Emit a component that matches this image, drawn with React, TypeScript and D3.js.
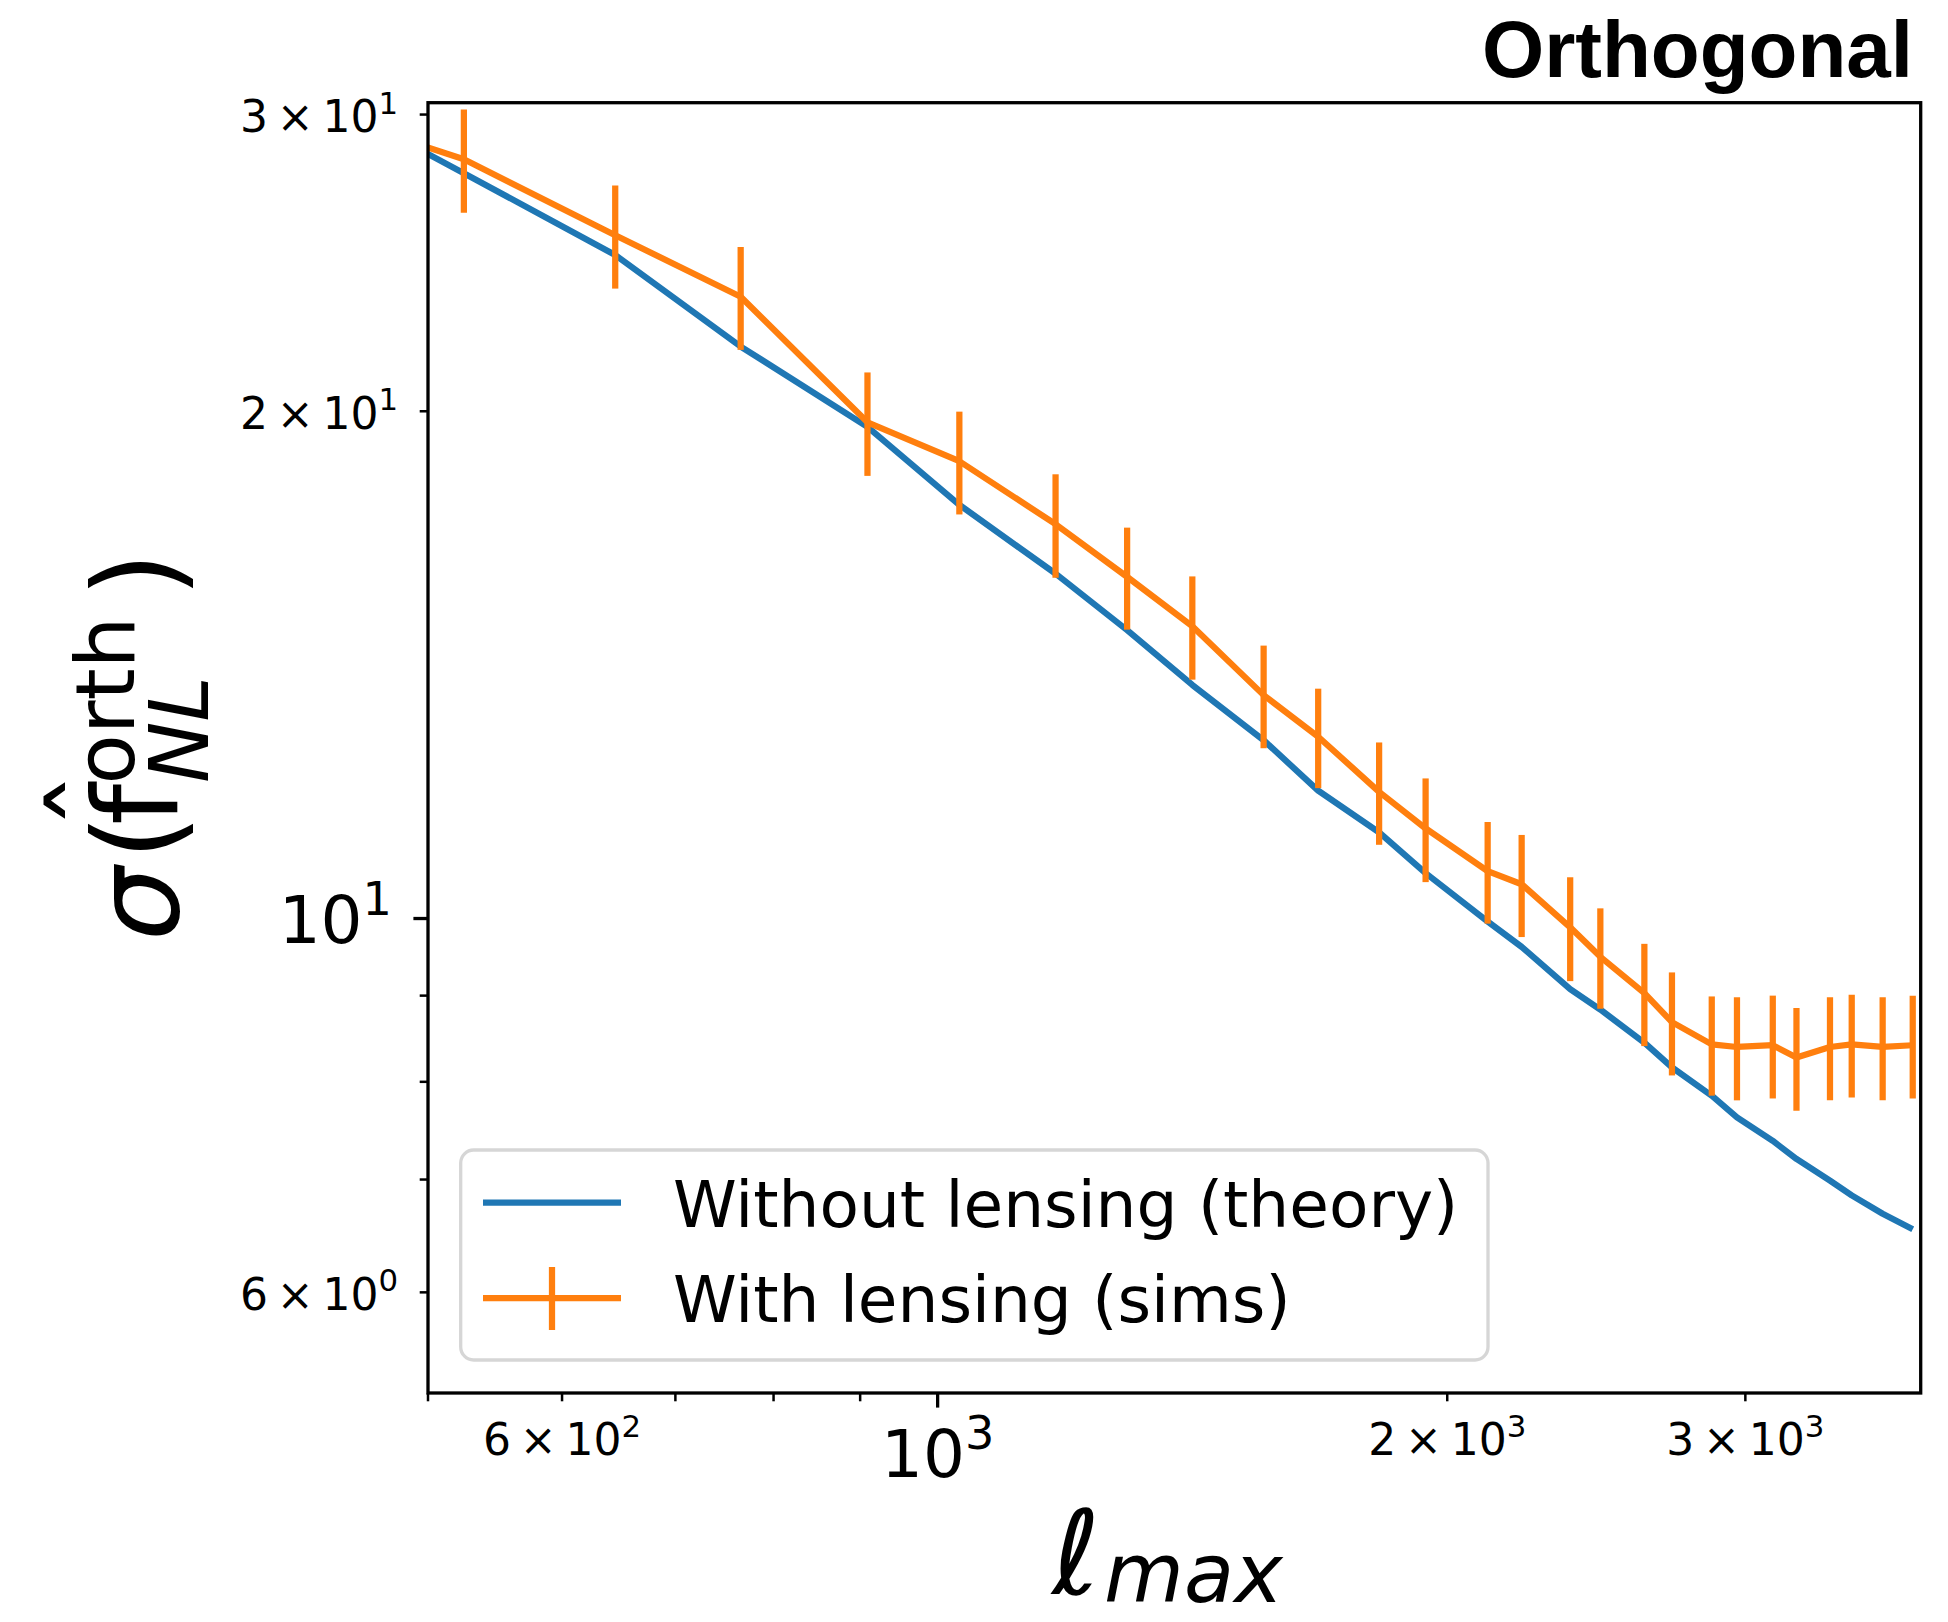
import React from "react";
import * as d3 from "d3";

// ---------------- data ----------------
const ellMax = [405, 525, 645, 765, 909, 1030, 1174, 1294, 1414, 1558, 1678, 1823, 1942, 2113, 2213, 2364, 2463, 2615, 2715, 2866, 2966, 3114, 3216, 3366, 3467, 3616, 3767];
const sigmaTheory = [31.85, 27.69, 24.76, 21.85, 19.58, 17.6, 16.02, 14.83, 13.76, 12.76, 11.91, 11.25, 10.64, 9.96, 9.62, 9.08, 8.83, 8.44, 8.16, 7.85, 7.62, 7.38, 7.2, 6.99, 6.85, 6.68, 6.54];
const sigmaSims = [30.75, 28.22, 25.44, 23.39, 19.7, 18.68, 17.14, 15.95, 14.91, 13.57, 12.82, 11.89, 11.31, 10.67, 10.48, 9.88, 9.49, 9.03, 8.68, 8.42, 8.39, 8.41, 8.27, 8.39, 8.42, 8.39, 8.41];
const sigmaSimsErr = [2.2, 1.99, 1.79, 1.64, 1.39, 1.31, 1.21, 1.11, 1.05, 0.95, 0.87, 0.83, 0.8, 0.74, 0.73, 0.7, 0.65, 0.63, 0.61, 0.57, 0.59, 0.59, 0.58, 0.59, 0.59, 0.59, 0.59];

const xDomain = [500, 3808];
const yDomain = [5.229, 30.49];

const xMajorTicks = [1000];
const xMinorTicks = [500, 600, 700, 800, 900, 2000, 3000];
const xMinorLabelValues = [600, 2000, 3000];
const xMinorLabelMant = ["6", "2", "3"];
const xMinorLabelExp = ["2", "3", "3"];
const xMajorLabelExp = ["3"];

const yMajorTicks = [10];
const yMinorTicks = [6, 7, 8, 9, 20, 30];
const yMinorLabelValues = [30, 20, 6];
const yMinorLabelMant = ["3", "2", "6"];
const yMinorLabelExp = ["1", "1", "0"];
const yMajorLabelExp = ["1"];

const legendLabels = ["Without lensing (theory)", "With lensing (sims)"];
const titleText = "Orthogonal";

// ---------------- layout ----------------
const W = 1948;
const H = 1622;
const L = 428;
const R = 1920.7;
const T = 102.7;
const B = 1393;

const BLUE = "#1f77b4";
const ORANGE = "#ff7f0e";
const FONT = "DejaVu Sans";

function Sci({ x, y, anchor, mant, exp, fs }: any) {
  return (
    <text x={x} y={y} textAnchor={anchor} fontSize={fs} fontFamily={FONT} fill="#000">
      {mant ? (
        <>
          <tspan>{mant}</tspan>
          <tspan dx={fs * 0.2}>×</tspan>
          <tspan dx={fs * 0.2}>10</tspan>
        </>
      ) : (
        <tspan>10</tspan>
      )}
      <tspan fontSize={fs * 0.7} dy={-fs * 0.42}>
        {exp}
      </tspan>
    </text>
  );
}

export default function App() {
  const x = d3.scaleLog().domain(xDomain).range([L, R]);
  const y = d3.scaleLog().domain(yDomain).range([B, T]);

  const pts = ellMax.map((e, i) => ({ e, t: sigmaTheory[i], s: sigmaSims[i], err: sigmaSimsErr[i] }));
  const lineT = d3.line<any>().x((d) => x(d.e)).y((d) => y(d.t));
  const lineS = d3.line<any>().x((d) => x(d.e)).y((d) => y(d.s));

  const minorFs = 44;
  const majorFs = 66;
  const lw = 6.25;

  // legend
  const legX = 460.7, legY = 1150, legW = 1027.3, legH = 210;
  const legFs = 64.5;

  return (
    <svg
      width={W}
      height={H}
      viewBox={`0 0 ${W} ${H}`}
      style={{ position: "absolute", left: 0, top: 0, display: "block", background: "#fff" }}
    >
      <rect x={0} y={0} width={W} height={H} fill="#fff" />
      <defs>
        <clipPath id="plotclip">
          <rect x={L} y={T} width={R - L} height={B - T} />
        </clipPath>
      </defs>

      {/* title */}
      <text x={1913} y={77} textAnchor="end" fontFamily="Liberation Sans, Arial, sans-serif" fontWeight="bold" fontSize={80} fill="#000">
        {titleText}
      </text>

      {/* data */}
      <g clipPath="url(#plotclip)">
        <path d={lineT(pts) || ""} fill="none" stroke={BLUE} strokeWidth={lw} strokeLinejoin="round" />
        <path d={lineS(pts) || ""} fill="none" stroke={ORANGE} strokeWidth={lw} strokeLinejoin="round" />
        {pts.map((p, i) => (
          <line
            key={i}
            x1={x(p.e)}
            x2={x(p.e)}
            y1={y(p.s - p.err)}
            y2={y(p.s + p.err)}
            stroke={ORANGE}
            strokeWidth={lw}
          />
        ))}
      </g>

      {/* y ticks */}
      {yMinorTicks.map((v) => (
        <line key={"ym" + v} x1={L - 8.3} x2={L} y1={y(v)} y2={y(v)} stroke="#000" strokeWidth={2.5} />
      ))}
      {yMajorTicks.map((v) => (
        <line key={"yM" + v} x1={L - 14.6} x2={L} y1={y(v)} y2={y(v)} stroke="#000" strokeWidth={3.3} />
      ))}
      {yMinorLabelValues.map((v, i) => (
        <Sci key={"yl" + v} x={398} y={y(v) + 17.5} anchor="end" mant={yMinorLabelMant[i]} exp={yMinorLabelExp[i]} fs={minorFs} />
      ))}
      {yMajorTicks.map((v, i) => (
        <Sci key={"yL" + v} x={392} y={y(v) + 24.5} anchor="end" mant={null} exp={yMajorLabelExp[i]} fs={majorFs} />
      ))}

      {/* x ticks */}
      {xMinorTicks.map((v) => (
        <line key={"xm" + v} x1={x(v)} x2={x(v)} y1={B} y2={B + 8.3} stroke="#000" strokeWidth={2.5} />
      ))}
      {xMajorTicks.map((v) => (
        <line key={"xM" + v} x1={x(v)} x2={x(v)} y1={B} y2={B + 14.6} stroke="#000" strokeWidth={3.3} />
      ))}
      {xMinorLabelValues.map((v, i) => (
        <Sci key={"xl" + v} x={x(v)} y={1455} anchor="middle" mant={xMinorLabelMant[i]} exp={xMinorLabelExp[i]} fs={minorFs} />
      ))}
      {xMajorTicks.map((v, i) => (
        <Sci key={"xL" + v} x={x(v)} y={1477} anchor="middle" mant={null} exp={xMajorLabelExp[i]} fs={majorFs} />
      ))}

      {/* spines */}
      <rect x={L} y={T} width={R - L} height={B - T} fill="none" stroke="#000" strokeWidth={3.3} />

      {/* x label */}
      <text x={1052} y={1594} fontFamily={FONT} fontStyle="italic" fontSize={117} fill="#000">ℓ</text>
      <text x={1104} y={1602} fontFamily={FONT} fontStyle="italic" fontSize={82} fill="#000">max</text>

      {/* y label */}
      <g transform="translate(178,937) rotate(-90)" fontFamily={FONT} fill="#000">
        <text x={-4} y={0} fontSize={117} fontStyle="italic">σ</text>
        <text x={77} y={0} fontSize={117}>(</text>
        <text x={112} y={0} fontSize={117}>f</text>
        <text x={136.5} y={-40} fontSize={117} textAnchor="middle">ˆ</text>
        <text x={152.5} y={-44} fontSize={82}>orth</text>
        <text x={154} y={30} fontSize={82} fontStyle="italic">NL</text>
        <text x={339.5} y={0} fontSize={117}>)</text>
      </g>

      {/* legend */}
      <rect x={legX} y={legY} width={legW} height={legH} rx={13} ry={13} fill="#fff" fillOpacity={0.8} stroke="#cccccc" strokeOpacity={0.8} strokeWidth={3.3} />
      <line x1={483} x2={621} y1={1202.7} y2={1202.7} stroke={BLUE} strokeWidth={lw} />
      <line x1={483} x2={621} y1={1298} y2={1298} stroke={ORANGE} strokeWidth={lw} />
      <line x1={552} x2={552} y1={1267} y2={1330} stroke={ORANGE} strokeWidth={lw} />
      <text x={673} y={1227} fontFamily={FONT} fontSize={legFs} fill="#000">{legendLabels[0]}</text>
      <text x={673} y={1322} fontFamily={FONT} fontSize={legFs} fill="#000">{legendLabels[1]}</text>
    </svg>
  );
}
